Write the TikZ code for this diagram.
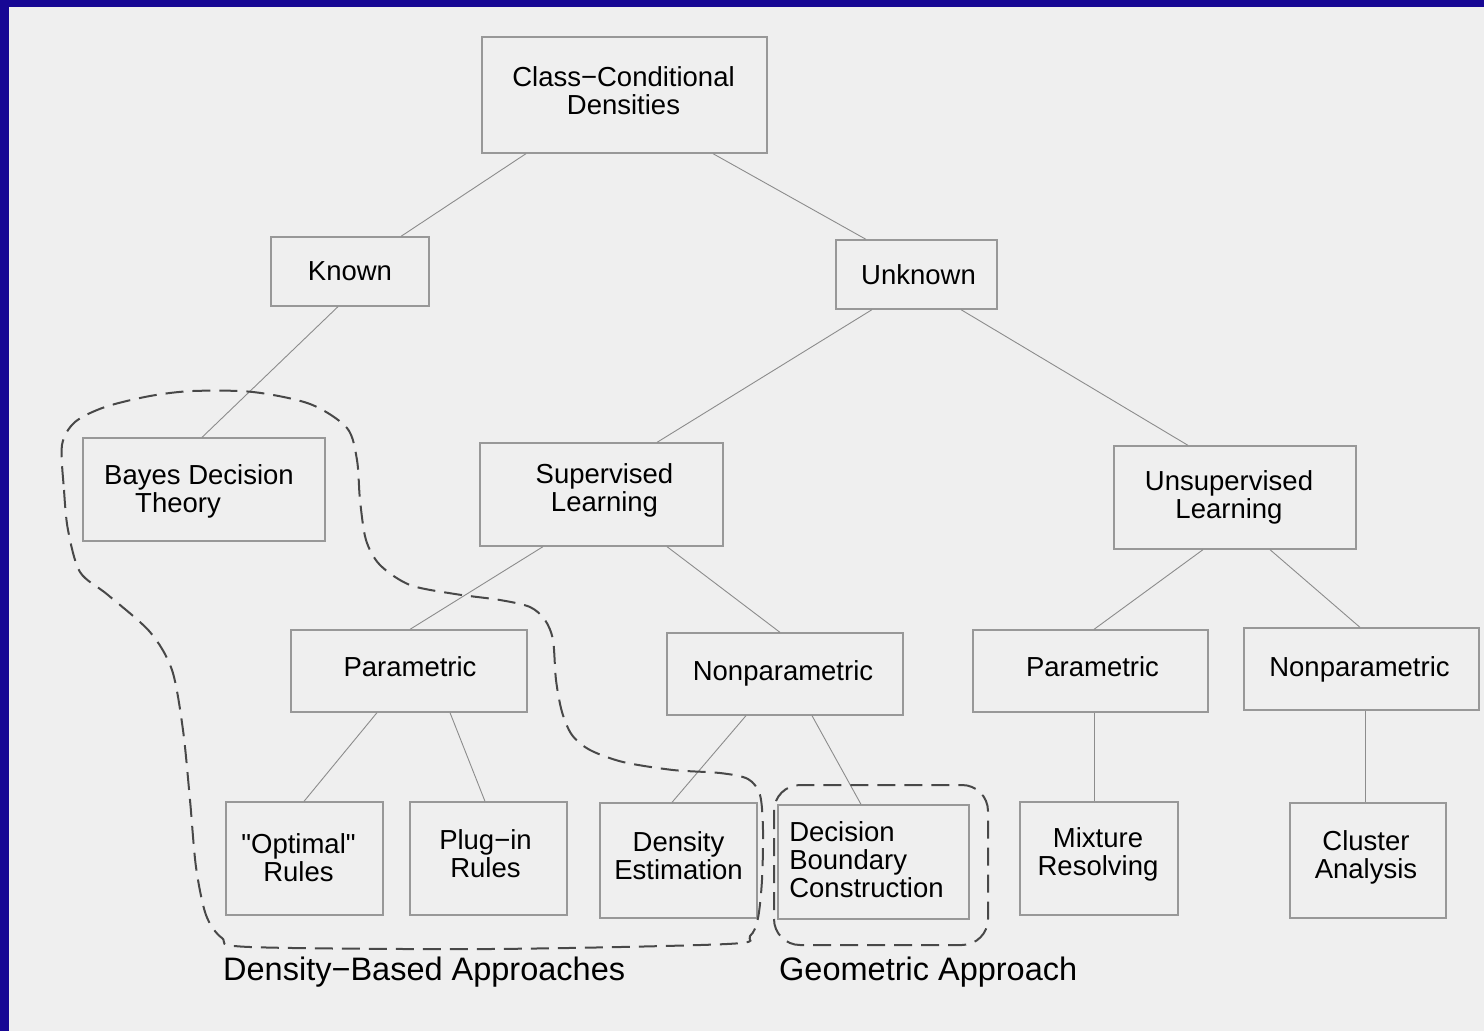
\documentclass[tikz,border=0pt]{standalone}
\usepackage{fontspec}
\newfontfamily\diagfont{Liberation Sans}
\definecolor{frameblue}{RGB}{23,7,148}
\definecolor{bgcol}{RGB}{239,239,239}
\definecolor{boxline}{RGB}{152,152,152}
\definecolor{connline}{RGB}{140,140,140}
\definecolor{dashline}{RGB}{72,72,72}
\begin{document}
\begin{tikzpicture}[x=1pt,y=-1pt,
  box/.style={draw=boxline, line width=1.3pt, inner sep=0pt},
  txt/.style={inner sep=0pt, align=center, text=black,
    font=\diagfont\fontsize{27.5}{28}\selectfont},
  conn/.style={draw=connline, line width=0.9pt},
  group/.style={draw=dashline, line width=2pt, dash pattern=on 18pt off 9pt},
  lab/.style={font=\diagfont\fontsize{32.5}{34}\selectfont, inner sep=0pt, anchor=base west, text=black}]
\useasboundingbox (0,0) rectangle (1484,1031);
\fill[bgcol] (0,0) rectangle (1484,1031);
\fill[frameblue] (0,0) rectangle (1484,7);
\fill[frameblue] (0,0) rectangle (9,1031);

% boxes
\node[box, minimum width=285pt, minimum height=116pt] (cc) at (624.5,95) {};
\node[box, minimum width=158pt, minimum height=69pt] (known) at (350,271.5) {};
\node[box, minimum width=161pt, minimum height=69pt] (unknown) at (916.5,274.5) {};
\node[box, minimum width=242pt, minimum height=103pt] (bayes) at (204,489.5) {};
\node[box, minimum width=243pt, minimum height=103pt] (sup) at (601.5,494.5) {};
\node[box, minimum width=242pt, minimum height=103pt] (unsup) at (1235,497.5) {};
\node[box, minimum width=236pt, minimum height=82pt] (parL) at (409,671) {};
\node[box, minimum width=236pt, minimum height=82pt] (nonM) at (785,674) {};
\node[box, minimum width=235pt, minimum height=82pt] (parR) at (1090.5,671) {};
\node[box, minimum width=235pt, minimum height=82pt] (nonR) at (1361.5,669) {};
\node[box, minimum width=157pt, minimum height=113pt] (opt) at (304.5,858.5) {};
\node[box, minimum width=157pt, minimum height=113pt] (plug) at (488.5,858.5) {};
\node[box, minimum width=157pt, minimum height=115pt] (dens) at (678.5,860.5) {};
\node[box, minimum width=191pt, minimum height=114pt] (dbc) at (873.5,862) {};
\node[box, minimum width=158pt, minimum height=113pt] (mix) at (1099,858.5) {};
\node[box, minimum width=156pt, minimum height=115pt] (clus) at (1368,860.5) {};

% box texts
\node[txt, xshift=-1pt, yshift=4pt] (cc-t) at (cc) {Class−Conditional\\Densities};
\node[txt] (known-t) at (known) {Known};
\node[txt, xshift=2pt] (unknown-t) at (unknown) {Unknown};
\node[txt, align=left, xshift=-5pt, yshift=-2pt] (bayes-t) at (bayes) {Bayes Decision\\\hspace*{31pt}Theory};
\node[txt, xshift=3pt, yshift=4pt] (sup-t) at (sup) {Supervised\\Learning};
\node[txt, xshift=-6pt] (unsup-t) at (unsup) {Unsupervised\\Learning};
\node[txt, xshift=1pt, yshift=4pt] (parL-t) at (parL) {Parametric};
\node[txt, xshift=-2pt, yshift=1pt] (nonM-t) at (nonM) {Nonparametric};
\node[txt, xshift=2pt, yshift=4pt] (parR-t) at (parR) {Parametric};
\node[txt, xshift=-2pt] (nonR-t) at (nonR) {Nonparametric};
\node[txt, xshift=-6pt, yshift=1pt] (opt-t) at (opt) {"Optimal"\\Rules};
\node[txt, xshift=-3pt, yshift=5pt] (plug-t) at (plug) {Plug−in\\Rules};
\node[txt, yshift=5pt] (dens-t) at (dens) {Density\\Estimation};
\node[txt, align=left, xshift=-7pt, yshift=2pt] (dbc-t) at (dbc) {Decision\\Boundary\\Construction};
\node[txt, xshift=-1pt, yshift=4pt] (mix-t) at (mix) {Mixture\\Resolving};
\node[txt, xshift=-2pt, yshift=3pt] (clus-t) at (clus) {Cluster\\Analysis};

% connectors
\draw[conn] (526,0 |- cc.south) -- (401,0 |- known.north);
\draw[conn] (713,0 |- cc.south) -- (866,0 |- unknown.north);
\draw[conn] (338,0 |- known.south) -- (202,0 |- bayes.north);
\draw[conn] (872,0 |- unknown.south) -- (657,0 |- sup.north);
\draw[conn] (961,0 |- unknown.south) -- (1188,0 |- unsup.north);
\draw[conn] (543,0 |- sup.south) -- (410,0 |- parL.north);
\draw[conn] (667,0 |- sup.south) -- (780,0 |- nonM.north);
\draw[conn] (1203,0 |- unsup.south) -- (1094,0 |- parR.north);
\draw[conn] (1270,0 |- unsup.south) -- (1360,0 |- nonR.north);
\draw[conn] (377,0 |- parL.south) -- (304,0 |- opt.north);
\draw[conn] (450,0 |- parL.south) -- (485,0 |- plug.north);
\draw[conn] (746,0 |- nonM.south) -- (672,0 |- dens.north);
\draw[conn] (812,0 |- nonM.south) -- (861,0 |- dbc.north);
\draw[conn] (1094,0 |- parR.south) -- (1094,0 |- mix.north);
\draw[conn] (1365,0 |- nonR.south) -- (1365,0 |- clus.north);

% groups
\draw[group] plot[smooth cycle, tension=0.5] coordinates {
  (62,445) (64,490) (68,530) (80,572) (108,595) (150,632) (172,670) (183,730)
  (190,800) (196,867) (206,915) (222,938) (250,947) (490,949) (727,944)
  (750,936) (758,918) (762,880) (763,830) (760,795) (748,779) (720,773)
  (673,770) (623,762) (590,750) (572,735) (562,712) (556,680) (553,640)
  (545,620) (530,607) (500,600) (455,594) (410,585) (380,565) (366,540)
  (360,500) (357,460) (347,428) (310,404) (253,392) (193,391) (150,396)
  (105,407) (75,422)};
\draw[group, rounded corners=26pt] (774,785) rectangle (988,945);

% labels
\node[lab] (dlab) at (223,980) {Density−Based Approaches};
\node[lab] (glab) at (779,980) {Geometric Approach};
\end{tikzpicture}
\end{document}
